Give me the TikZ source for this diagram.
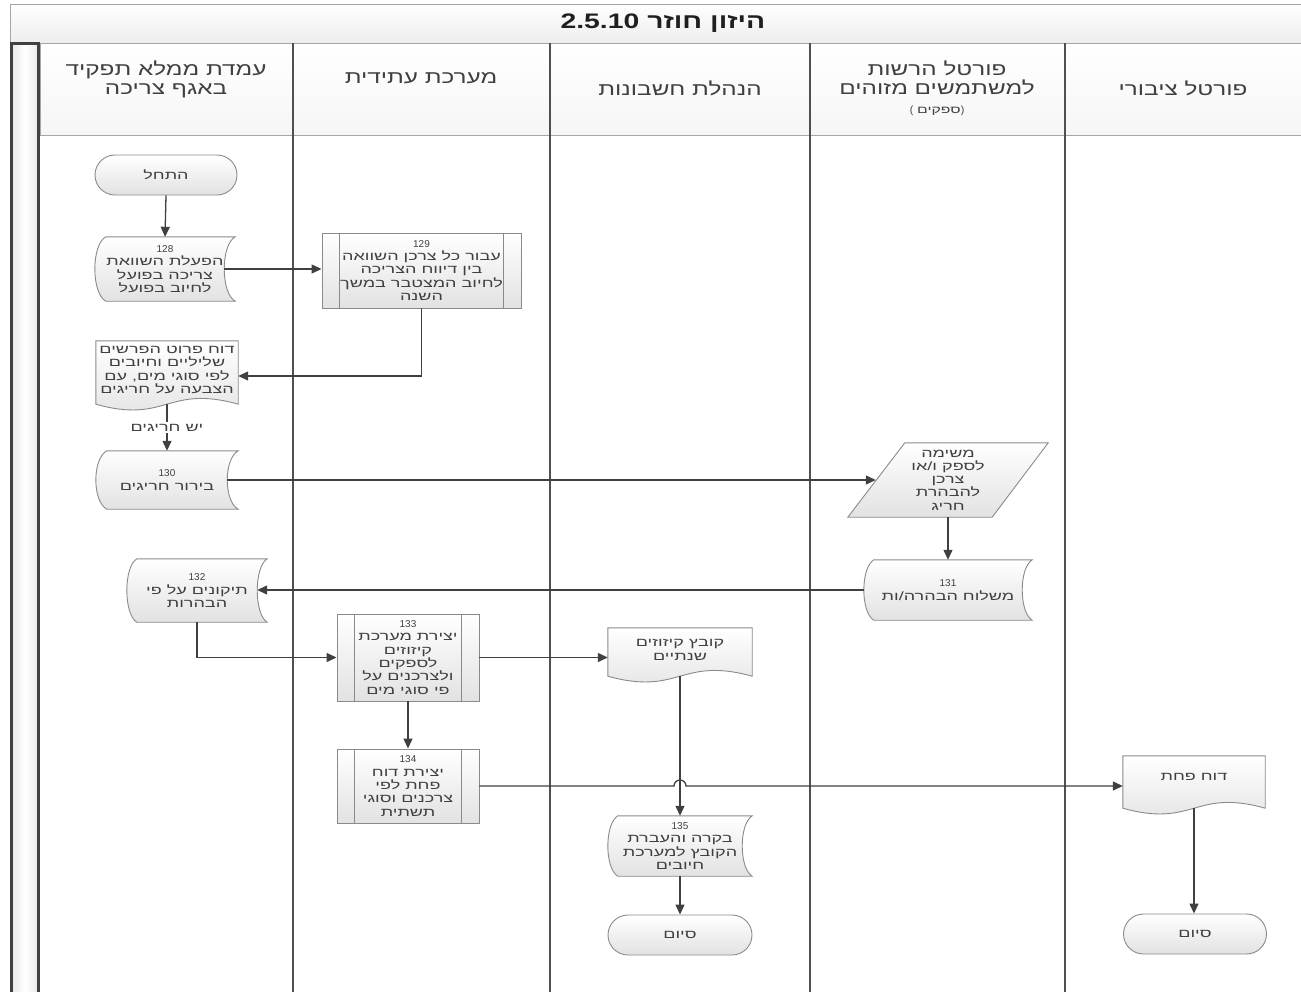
\documentclass[tikz,border=0pt]{standalone}
\usepackage{fontspec}
\setmainfont{Liberation Sans}
\newfontfamily\heb[Script=Hebrew,FakeStretch=1.5]{Liberation Sans}
\newfontfamily\hebh[Script=Hebrew,FakeStretch=1.35]{Liberation Sans}
\newfontfamily\hebt[Script=Hebrew,FakeStretch=1.35]{Liberation Sans}
\TeXXeTstate=1
\usetikzlibrary{arrows.meta,calc,backgrounds}
\definecolor{lanec}{HTML}{505050}
\definecolor{shpc}{HTML}{8A8A8A}
\definecolor{arrc}{HTML}{404040}
\definecolor{txtc}{HTML}{404040}
\definecolor{fillb}{HTML}{E2E2E2}
\newcommand\HR[1]{\beginR#1\endR}
\newcommand\numl[1]{{\rmfamily\fontsize{10}{13}\selectfont #1}}
\newcommand\sdshape[2]{% name, bulge
  \path[shp] ($(#1.north west)+(#2,0)$) -- (#1.north east)
    .. controls ($(#1.north east)+(-1.33*#2,8)$) and ($(#1.south east)+(-1.33*#2,-8)$) .. (#1.south east)
    -- ($(#1.south west)+(#2,0)$)
    .. controls ($(#1.south west)+(-0.33*#2,-8)$) and ($(#1.north west)+(-0.33*#2,8)$) .. cycle;}
\newcommand\docshape[2]{% name, drop
  \path[shp] (#1.north west) -- (#1.north east) -- ($(#1.south east)+(0,#2)$)
    .. controls ($(#1.south)+(0,#2-20)$) and ($(#1.south)+(0,#2+20)$) .. ($(#1.south west)+(0,#2)$) -- cycle;}
\newcommand\ppshape[1]{%
  \draw[shpc, line width=0.9pt] ($(#1.north west)+(18,0)$) -- ($(#1.south west)+(18,0)$)
    ($(#1.north east)+(-18,0)$) -- ($(#1.south east)+(-18,0)$);}
\tikzset{
  shp/.style={draw=shpc, line width=0.9pt, top color=white, bottom color=fillb},
  txt/.style={font=\heb\fontsize{12}{13.3}\selectfont, text=txtc, align=center, inner sep=0pt},
  hdr/.style={font=\hebh\fontsize{18}{19}\selectfont, text=txtc, align=center, inner sep=0pt},
  sz/.style 2 args={minimum width=#1pt, minimum height=#2pt},
  term/.style={txt, shp, rounded corners=20pt},
  pproc/.style={txt, shp},
  arr/.style={draw=arrc, line width=1.3pt, -{Triangle[length=10pt,width=9pt]}},
}
\begin{document}
\begin{tikzpicture}[x=1pt,y=-1pt]
\useasboundingbox (0,0) rectangle (1301,991);
% title band and headers
\path[draw=gray!70, top color=white, bottom color=gray!14] (10,4) rectangle (1305,43);
\node[font=\hebt\bfseries\fontsize{21}{22}\selectfont, text=black!88, inner sep=0pt] (title) at (663,23) {\HR{היזון חוזר \beginL2.5.10\endL}};
\path[draw=gray!70, top color=white, bottom color=gray!7] (40,43) rectangle (1305,135);
\path[draw=black!75, line width=3pt, left color=gray!18, right color=gray!18, middle color=white] (11.5,43) rectangle (38.5,1000);
\foreach \lx in {293,550,810,1065} {\draw[lanec, line width=1.2pt] (\lx,43) -- (\lx,1000);}
\node[hdr] (h1) at (166,79) {\HR{עמדת ממלא תפקיד}\\\HR{באגף צריכה}};
\node[hdr] (h2) at (421,78) {\HR{מערכת עתידית}};
\node[hdr] (h3) at (680,88) {\HR{הנהלת חשבונות}};
\node[hdr] (h4) at (937,78) {\HR{פורטל הרשות}\\\HR{למשתמשים מזוהים}};
\node[txt, font=\heb\fontsize{10.5}{12}\selectfont] (h4b) at (937,111) {{\rmfamily (}\hspace{4pt}\HR{ספקים}{\rmfamily )}};
\node[hdr] (h5) at (1183,88) {\HR{פורטל ציבורי}};
% nodes
\node[term, sz={142}{40}] (start) at (166,175) {\HR{התחל}};
\node[txt, sz={140}{64}] (n128) at (165,269) {\numl{128}\\\HR{הפעלת השוואת}\\\HR{צריכה בפועל}\\\HR{לחיוב בפועל}};
\node[pproc, sz={199}{75}] (n129) at (421.5,270.5) {\numl{129}\\\HR{עבור כל צרכן השוואה}\\\HR{בין דיווח הצריכה}\\\HR{לחיוב המצטבר במשך}\\\HR{השנה}};
\node[txt, sz={142}{58}] (doc1) at (167,370) {\HR{דוח פרוט הפרשים}\\\HR{שליליים וחיובים}\\\HR{לפי סוגי מים, עם}\\\HR{הצבעה על חריגים}};
\node[txt, sz={142}{58}] (n130) at (167,480) {\numl{130}\\\HR{בירור חריגים}};
\node[txt, sz={200}{74}] (para) at (948,480) {\HR{משימה}\\\HR{לספק ו/או}\\\HR{צרכן}\\\HR{להבהרת}\\\HR{חריג}};
\node[txt, sz={168}{60}] (n131) at (948,590) {\numl{131}\\\HR{משלוח הבהרה/ות}};
\node[txt, sz={140}{63}] (n132) at (197,590.5) {\numl{132}\\\HR{תיקונים על פי}\\\HR{הבהרות}};
\node[pproc, sz={142}{87}] (n133) at (408,657.5) {\numl{133}\\\HR{יצירת מערכת}\\\HR{קיזוזים}\\\HR{לספקים}\\\HR{ולצרכנים על}\\\HR{פי סוגי מים}};
\node[pproc, sz={142}{74}] (n134) at (408,786) {\numl{134}\\\HR{יצירת דוח}\\\HR{פחת לפי}\\\HR{צרכנים וסוגי}\\\HR{תשתית}};
\node[txt, sz={144}{44}] (kov) at (680,650) {\HR{קובץ קיזוזים}\\\HR{שנתיים}};
\node[txt, sz={144}{60}] (n135) at (680,846) {\numl{135}\\\HR{בקרה והעברת}\\\HR{הקובץ למערכת}\\\HR{חיובים}};
\node[term, sz={144}{40}] (end3) at (680,935) {\HR{סיום}};
\node[txt, sz={142}{42}] (doh) at (1194,777) {\HR{דוח פחת}};
\node[term, sz={143}{40}] (end5) at (1195,934) {\HR{סיום}};
\ppshape{n129}\ppshape{n133}\ppshape{n134}
\begin{scope}[on background layer]
\sdshape{n128}{11}
\sdshape{n130}{11}
\sdshape{n131}{10}
\sdshape{n132}{10}
\sdshape{n135}{10}
\docshape{doc1}{5}
\docshape{kov}{4}
\docshape{doh}{10}
\path[shp] ($(para.north west)+(57,0)$) -- (para.north east) -- ($(para.south east)+(-56,0)$) -- (para.south west) -- cycle;
\end{scope}
% connectors
\draw[arr] (start.south) -- (n128.north);
\draw[arr] ([xshift=-11pt]n128.east) -- (n128.east -| n129.west);
\draw[arr] (n129.south) |- ([yshift=-6pt]doc1.east);
\draw[arr] ([yshift=-5pt]doc1.south) -- node[txt, fill=white, inner sep=1.5pt, pos=0.5] (lbl) {\HR{יש חריגים}} (n130.north);
\draw[arr] ([xshift=-11pt]n130.east) -- ([xshift=28pt]para.west);
\draw[arr] (para.south) -- (n131.north);
\draw[arr] (n131.west) -- ([xshift=-10pt]n132.east |- n131.west);
\draw[arr] (n132.south) |- (n133.west);
\draw[arr] (n133.east) -- (n133.east -| kov.west);
\draw[arr] (n133.south) -- (n134.north);
\coordinate (jmp) at (kov.south |- n134.east);
\draw[arr] (n134.east) -- ([xshift=-6pt]jmp) arc[start angle=180, end angle=0, radius=6pt] -- (jmp -| doh.west);
\draw[arr] ([yshift=-4pt]kov.south) -- (n135.north);
\draw[arr] (n135.south) -- (end3.north);
\draw[arr] ([yshift=-10pt]doh.south) -- (doh.south |- end5.north);
\end{tikzpicture}
\end{document}
